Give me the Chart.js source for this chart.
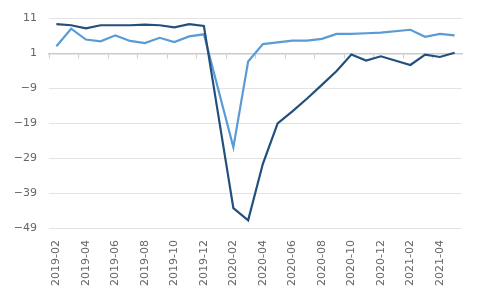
<!DOCTYPE html>
<html>
<head>
<meta charset="utf-8">
<script src="https://cdn.jsdelivr.net/npm/chart.js@4"></script>
<style>
  html, body { margin: 0; padding: 0; background: #fff; }
  #wrap { width: 480px; height: 300px; }
</style>
</head>
<body>
<div id="wrap"><canvas id="myChart"></canvas></div>
<script>
// months (Jan values missing in the source, line spans the gap)
const months = ["2019-02", "2019-03", "2019-04", "2019-05", "2019-06", "2019-07", "2019-08",
    "2019-09", "2019-10", "2019-11", "2019-12", "2020-01", "2020-02", "2020-03", "2020-04",
    "2020-05", "2020-06", "2020-07", "2020-08", "2020-09", "2020-10", "2020-11", "2020-12",
    "2021-01", "2021-02", "2021-03", "2021-04", "2021-05"];
const darkSeries = [9.4, 9.1, 8.2, 9.1, 9.1, 9.1, 9.3, 9.1, 8.5, 9.4, 8.9, null,
    -43.3, -46.8, -30.6, -19.0, -15.6, -11.9, -8.0, -4.0, 0.7, -1.0, 0.2, null,
    -2.3, 0.7, 0.0, 1.2];
const lightSeries = [3.1, 8.1, 5.0, 4.5, 6.2, 4.6, 4.0, 5.5, 4.3, 5.9, 6.5, null,
    -25.9, -1.3, 3.7, 4.2, 4.7, 4.7, 5.2, 6.6, 6.6, 6.8, 7.0, null,
    7.8, 5.8, 6.6, 6.2];
const yMin = -49;
const yMax = 11;
const yStep = 10;

const labelColor = "#666666";
const font = { family: "DejaVu Sans", size: 11 };

let ctx = document.getElementById('myChart').getContext('2d');
let myChart = new Chart(ctx, {
    type: 'line',
    data: {
        labels: months,
        datasets: [{
            label: 'dark',
            data: darkSeries,
            borderColor: '#22507d',
            borderWidth: 2.2,
            pointRadius: 0,
            tension: 0,
            spanGaps: true
        }, {
            label: 'light',
            data: lightSeries,
            borderColor: '#5b9bd5',
            borderWidth: 2.2,
            pointRadius: 0,
            tension: 0,
            spanGaps: true
        }]
    },
    options: {
        responsive: true,
        maintainAspectRatio: false,
        animation: false,
        layout: { padding: { top: 16, right: 18, left: 0, bottom: 0 } },
        plugins: { legend: { display: false }, tooltip: { enabled: false } },
        scales: {
            x: {
                type: 'category',
                offset: true,
                grid: { display: false },
                border: { display: false },
                ticks: {
                    autoSkip: false,
                    minRotation: 90,
                    maxRotation: 90,
                    padding: 4,
                    color: labelColor,
                    font: font,
                    callback: function (val, i) {
                        return i % 2 === 0 ? this.getLabelForValue(val) : '';
                    }
                },
                afterFit: function (scale) { scale.height = 72; }
            },
            // axis line crossing at 1 with tick marks
            xLine: {
                type: 'category',
                position: { y: 1 },
                offset: true,
                grid: {
                    offset: true,
                    drawOnChartArea: false,
                    drawTicks: true,
                    tickLength: 4,
                    tickWidth: 1,
                    tickColor: c => (c.index % 2 === 0 ? '#cccccc' : 'rgba(0,0,0,0)')
                },
                border: { display: true, color: '#cccccc', width: 1.5 },
                ticks: { display: false }
            },
            y: {
                min: yMin,
                max: yMax,
                grid: {
                    color: '#e3e3e3',
                    lineWidth: 1,
                    drawTicks: false
                },
                border: { display: false },
                ticks: {
                    stepSize: yStep,
                    padding: 12,
                    color: labelColor,
                    font: font,
                    callback: v => (v < 0 ? '\u2212' + Math.abs(v) : String(v))
                },
                afterFit: function (scale) { scale.width = 49; }
            }
        }
    }
});
</script>
</body>
</html>
